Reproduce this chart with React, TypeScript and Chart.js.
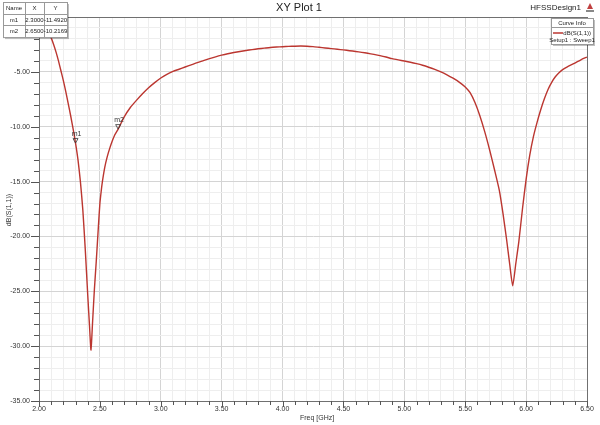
import React, { useEffect, useRef } from 'react';
import { Chart, registerables } from 'chart.js';
Chart.register(...registerables);

const freqGHz = [
  2.00, 2.02, 2.04, 2.06, 2.08, 2.10, 2.12, 2.14, 2.16, 2.18, 2.20, 2.22, 2.24, 2.26, 2.28, 2.30,
  2.32, 2.34, 2.36, 2.38, 2.40, 2.415, 2.427, 2.44, 2.455, 2.47, 2.48, 2.49, 2.50, 2.51, 2.52, 2.54, 2.56, 2.58, 2.60, 2.62, 2.65,
  2.70, 2.75, 2.80, 2.85, 2.90, 2.95, 3.00, 3.05, 3.10, 3.15, 3.20, 3.25, 3.30, 3.35, 3.40, 3.45, 3.50,
  3.55, 3.60, 3.65, 3.70, 3.75, 3.80, 3.85, 3.90, 3.95, 4.00, 4.05, 4.10, 4.15, 4.20, 4.25, 4.30, 4.35,
  4.40, 4.45, 4.50, 4.55, 4.60, 4.65, 4.70, 4.75, 4.80, 4.85, 4.90, 4.95, 5.00, 5.05, 5.10, 5.15, 5.20,
  5.25, 5.30, 5.35, 5.40, 5.45, 5.50, 5.54, 5.58, 5.62, 5.66, 5.70, 5.74, 5.78, 5.81, 5.84, 5.865, 5.89,
  5.915, 5.94, 5.97, 6.00, 6.03, 6.06, 6.09, 6.12, 6.15, 6.18, 6.21, 6.24, 6.27, 6.30, 6.335, 6.40, 6.45, 6.50,
];
const s11dB = [
  -0.6, -0.8, -1.0, -1.2, -1.5, -1.9, -2.5, -3.2, -4.0, -4.9, -5.8, -6.8, -7.9, -9.0, -10.2, -11.49,
  -13.0, -15.0, -17.6, -21.2, -25.3, -28.2, -30.35, -27.8, -24.8, -22.3, -20.5, -18.7, -17.0, -15.95, -15.05, -13.7, -12.75, -12.0, -11.35, -10.8, -10.22,
  -9.1, -8.25, -7.6, -7.0, -6.45, -5.98, -5.56, -5.22, -4.96, -4.76, -4.56, -4.36, -4.16, -3.98, -3.8, -3.63, -3.48,
  -3.35, -3.24, -3.14, -3.05, -2.97, -2.9, -2.84, -2.78, -2.74, -2.71, -2.68, -2.66, -2.65, -2.66, -2.7, -2.76, -2.82,
  -2.88, -2.94, -3.0, -3.07, -3.14, -3.22, -3.31, -3.41, -3.52, -3.65, -3.8, -3.91, -4.01, -4.12, -4.25, -4.4, -4.58,
  -4.78, -5.0, -5.27, -5.58, -5.93, -6.37, -6.9, -7.8, -9.0, -10.45, -12.1, -13.9, -15.8, -17.9, -20.3, -22.5, -24.5,
  -22.5, -20.5, -17.5, -14.8, -12.6, -10.9, -9.6, -8.45, -7.45, -6.6, -5.95, -5.45, -5.08, -4.8, -4.56, -4.2, -3.9, -3.65,
];

const markerNames = ['m1', 'm2'];
const markerX = [2.3, 2.65];
const markerY = [-11.492, -10.2169];
const markerXText = ['2.3000', '2.6500'];
const markerYText = ['-11.4920', '-10.2169'];

const xMin = 2.0, xMax = 6.5, yMin = -35, yMax = 0;
const FONT = "'Liberation Sans Narrow', 'Liberation Sans', Arial, sans-serif";
const CURVE = '#bb3630';

export default function App() {
  const ref = useRef<HTMLCanvasElement | null>(null);
  useEffect(() => {
    document.body.style.margin = '0';
    const canvas = ref.current!;
    const deco = {
      id: 'deco',
      afterDraw(chart: any) {
        const ctx = chart.ctx as CanvasRenderingContext2D;
        const a = chart.chartArea;
        const xs = chart.scales.x, ys = chart.scales.y;
        ctx.save();
        ctx.strokeStyle = '#707070';
        ctx.lineWidth = 1;
        ctx.strokeRect(Math.round(a.left) + 0.5, Math.round(a.top) + 0.5, Math.round(a.right - a.left), Math.round(a.bottom - a.top));
        ctx.strokeStyle = '#555';
        ctx.beginPath();
        for (let i = 0; i <= 35; i++) {
          const v = yMin + i;
          const y = Math.round(ys.getPixelForValue(v)) + 0.5;
          const len = v % 5 === 0 ? 8 : 5;
          ctx.moveTo(a.left - len, y);
          ctx.lineTo(a.left, y);
        }
        for (let i = 0; i <= 45; i++) {
          const v = xMin + i * 0.1;
          const x = Math.round(xs.getPixelForValue(v)) + 0.5;
          const len = i % 5 === 0 ? 6 : 4;
          ctx.moveTo(x, a.bottom);
          ctx.lineTo(x, a.bottom + len);
        }
        ctx.stroke();
        ctx.fillStyle = '#222';
        ctx.font = `11px ${FONT}`;
        ctx.textAlign = 'center';
        ctx.textBaseline = 'middle';
        ctx.fillText('XY Plot 1', 299, 8);
        ctx.font = `8px ${FONT}`;
        ctx.textAlign = 'right';
        ctx.fillText('HFSSDesign1', 581, 8);
        ctx.fillStyle = '#c04040';
        ctx.beginPath();
        ctx.moveTo(590, 3); ctx.lineTo(593, 9); ctx.lineTo(587, 9); ctx.closePath(); ctx.fill();
        ctx.fillStyle = '#888';
        ctx.fillRect(586, 10, 8, 2);
        ctx.fillStyle = '#333';
        ctx.font = `7px ${FONT}`;
        ctx.textAlign = 'left';
        ctx.fillText('Freq [GHz]', 300, 418);
        ctx.save();
        ctx.translate(9, 210);
        ctx.rotate(-Math.PI / 2);
        ctx.textAlign = 'center';
        ctx.fillText('dB(S(1,1))', 0, 0);
        ctx.restore();
        ctx.font = `7px ${FONT}`;
        for (let i = 0; i < markerNames.length; i++) {
          const px = xs.getPixelForValue(markerX[i]);
          const py = ys.getPixelForValue(markerY[i]);
          ctx.strokeStyle = '#333';
          ctx.lineWidth = 0.8;
          ctx.beginPath();
          ctx.moveTo(px, py); ctx.lineTo(px - 2.5, py - 4.5); ctx.lineTo(px + 2.5, py - 4.5); ctx.closePath();
          ctx.stroke();
          ctx.fillStyle = '#333';
          ctx.textAlign = 'center';
          ctx.fillText(markerNames[i], px + 1, py - 9);
        }
        const tx = 3, ty = 2, cw = [22, 19, 23], rh = 11.7;
        const tw = cw[0] + cw[1] + cw[2], th = rh * 3;
        ctx.fillStyle = 'rgba(0,0,0,0.25)';
        ctx.fillRect(tx + 2, ty + 2, tw, th);
        ctx.fillStyle = '#fff';
        ctx.fillRect(tx, ty, tw, th);
        ctx.strokeStyle = '#999';
        ctx.lineWidth = 1;
        ctx.strokeRect(tx + 0.5, ty + 0.5, tw, th);
        ctx.beginPath();
        for (let r = 1; r < 3; r++) { ctx.moveTo(tx, Math.round(ty + r * rh) + 0.5); ctx.lineTo(tx + tw, Math.round(ty + r * rh) + 0.5); }
        ctx.moveTo(tx + cw[0] + 0.5, ty); ctx.lineTo(tx + cw[0] + 0.5, ty + th);
        ctx.moveTo(tx + cw[0] + cw[1] + 0.5, ty); ctx.lineTo(tx + cw[0] + cw[1] + 0.5, ty + th);
        ctx.stroke();
        ctx.fillStyle = '#222';
        ctx.font = `6px ${FONT}`;
        ctx.textAlign = 'center';
        const cx = [tx + cw[0] / 2, tx + cw[0] + cw[1] / 2, tx + cw[0] + cw[1] + cw[2] / 2];
        ctx.fillText('Name', cx[0], ty + rh / 2 + 0.5);
        ctx.fillText('X', cx[1], ty + rh / 2 + 0.5);
        ctx.fillText('Y', cx[2], ty + rh / 2 + 0.5);
        for (let i = 0; i < markerNames.length; i++) {
          const yy = ty + rh * (i + 1) + rh / 2 + 0.5;
          ctx.fillText(markerNames[i], cx[0], yy);
          ctx.fillText(markerXText[i], cx[1], yy);
          ctx.fillText(markerYText[i], cx[2], yy);
        }
        const bx = 551, by = 18, bw = 42, bh = 26;
        ctx.fillStyle = 'rgba(0,0,0,0.25)';
        ctx.fillRect(bx + 2, by + 2, bw, bh);
        ctx.fillStyle = '#fff';
        ctx.fillRect(bx, by, bw, bh);
        ctx.strokeStyle = '#999';
        ctx.strokeRect(bx + 0.5, by + 0.5, bw, bh);
        ctx.beginPath();
        ctx.moveTo(bx, by + 9.5); ctx.lineTo(bx + bw, by + 9.5);
        ctx.stroke();
        ctx.fillStyle = '#222';
        ctx.textAlign = 'center';
        ctx.fillText('Curve Info', bx + bw / 2, by + 5);
        ctx.strokeStyle = CURVE;
        ctx.lineWidth = 1.5;
        ctx.beginPath();
        ctx.moveTo(bx + 2, by + 15); ctx.lineTo(bx + 12, by + 15);
        ctx.stroke();
        ctx.textAlign = 'right';
        ctx.fillText('dB(S(1,1))', bx + bw - 2, by + 15);
        ctx.textAlign = 'center';
        ctx.fillText('Setup1 : Sweep1', bx + bw / 2, by + 22);
        ctx.restore();
      },
    };

    const isMajorX = (v: number) => Math.abs(Math.round(v * 10) % 5) === 0;
    const isMajorY = (v: number) => Math.abs(Math.round(v) % 5) === 0;

    const chart = new Chart(canvas, {
      type: 'line',
      data: {
        datasets: [{
          data: freqGHz.map((f, i) => ({ x: f, y: s11dB[i] })),
          borderColor: CURVE,
          borderWidth: 1.4,
          pointRadius: 0,
          tension: 0.2,
          fill: false,
        }],
      },
      options: {
        responsive: false,
        animation: false,
        devicePixelRatio: 1,
        layout: { padding: { top: 17, right: 13, left: 0, bottom: 0 } },
        plugins: { legend: { display: false }, tooltip: { enabled: false }, title: { display: false } },
        scales: {
          x: {
            type: 'linear',
            min: xMin,
            max: xMax,
            afterFit: (s: any) => { s.height = 24; },
            afterBuildTicks: (s: any) => {
              const t = [];
              for (let i = 0; i <= 45; i++) t.push({ value: xMin + i * 0.1 });
              s.ticks = t;
            },
            ticks: {
              autoSkip: false,
              maxRotation: 0,
              padding: 4,
              color: '#333',
              font: { family: FONT, size: 7 },
              callback: (v: any) => (isMajorX(Number(v)) ? Number(v).toFixed(2) : ''),
            },
            grid: {
              drawTicks: false,
              color: (c: any) => (c.tick && isMajorX(c.tick.value) ? '#d4d4d4' : '#eeeeee'),
              lineWidth: 1,
            },
            border: { display: true, color: '#707070' },
          },
          y: {
            type: 'linear',
            min: yMin,
            max: yMax,
            afterFit: (s: any) => { s.width = 39; },
            afterBuildTicks: (s: any) => {
              const t = [];
              for (let i = 0; i <= 35; i++) t.push({ value: yMin + i });
              s.ticks = t;
            },
            ticks: {
              autoSkip: false,
              padding: 9,
              color: '#333',
              font: { family: FONT, size: 7 },
              callback: (v: any) => (isMajorY(Number(v)) ? Number(v).toFixed(2) : ''),
            },
            grid: {
              drawTicks: false,
              color: (c: any) => (c.tick && isMajorY(c.tick.value) ? '#d4d4d4' : '#eeeeee'),
              lineWidth: 1,
            },
            border: { display: true, color: '#707070' },
          },
        },
      },
      plugins: [deco],
    } as any);
    return () => chart.destroy();
  }, []);

  return (
    <div style={{ position: 'fixed', left: 0, top: 0, width: 600, height: 425, background: '#fff' }}>
      <canvas ref={ref} width={600} height={425} style={{ display: 'block' }} />
    </div>
  );
}
